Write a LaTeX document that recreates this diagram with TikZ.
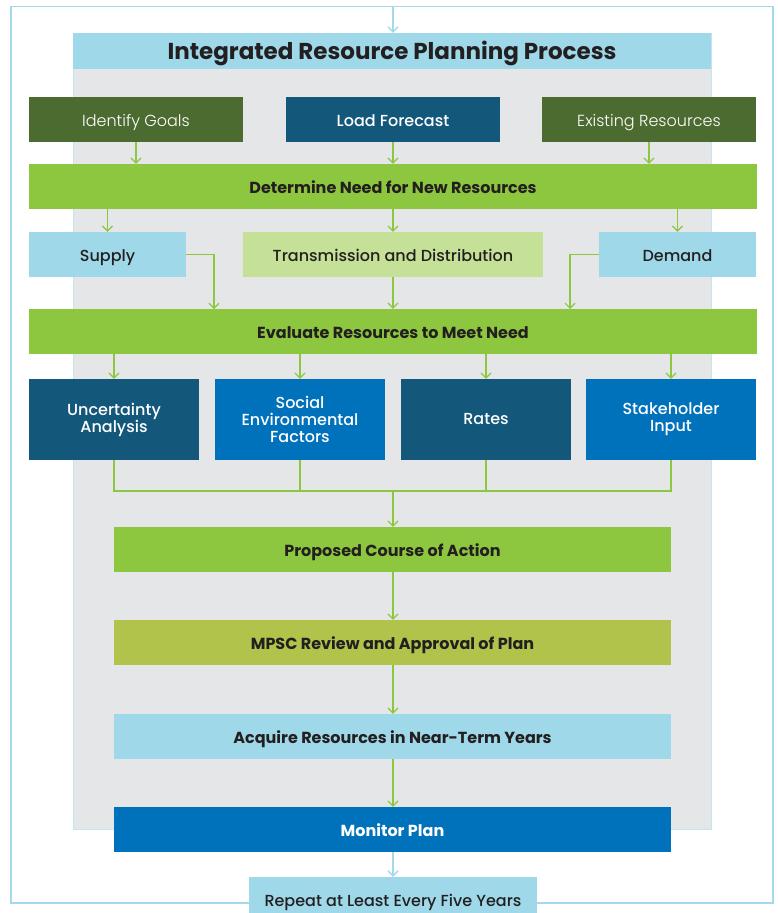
\documentclass[tikz,border=0pt]{standalone}
\usepackage{fontspec}
\setmainfont{Poppins}
\newfontfamily\lightface{Poppins}[UprightFont=*-Light]
\newfontfamily\mediumface{Poppins}[UprightFont=*-Medium]
\usetikzlibrary{arrows.meta}
\definecolor{darkgreen}{HTML}{4C6B31}
\definecolor{navy}{HTML}{13577B}
\definecolor{brightblue}{HTML}{0071BB}
\definecolor{lime}{HTML}{8DC63F}
\definecolor{olive}{HTML}{B1C34A}
\definecolor{palegreen}{HTML}{C5E097}
\definecolor{skyblue}{HTML}{9ED8E9}
\definecolor{panelgray}{HTML}{E5E6E8}
\definecolor{paneledge}{HTML}{C3E5F0}
\definecolor{loopblue}{HTML}{A3D9EB}
\definecolor{ink}{HTML}{231F20}
\tikzset{
  box/.style={rectangle, inner sep=0pt, align=center, text height=14pt, text depth=1pt,
    font=\fontsize{16}{17}\selectfont\mediumface},
  darkbox/.style={box, fill=#1, text=white},
  lightbox/.style={box, fill=#1, text=ink},
  wide/.style={minimum width=728pt, minimum height=45pt},
  mid/.style={minimum width=557pt, minimum height=45pt},
  top/.style={minimum width=214pt, minimum height=45pt},
  quad/.style={minimum width=170pt, minimum height=81pt, text height={}, text depth={}},
  bold/.style={font=\fontsize{16}{17}\selectfont\bfseries},
  thin/.style={font=\fontsize{16}{17}\selectfont\lightface},
  conn/.style={draw=lime, line width=1.2pt},
  arr/.style={conn, -{Straight Barb[length=5pt,width=10pt]}},
  loopline/.style={draw=loopblue, line width=1.4pt},
  looparr/.style={loopline, -{Straight Barb[length=5pt,width=10pt]}}
}
\begin{document}
\begin{tikzpicture}[x=1pt,y=-1pt]
\useasboundingbox (0,0) rectangle (778,913);
% background panel and heading
\fill[panelgray] (73,33) rectangle (711,829);
\draw[paneledge, line width=1pt] (73,33) rectangle (711,829);
\node[lightbox=skyblue, minimum width=638pt, minimum height=36pt, text height=20pt, text depth=3pt,
  font=\fontsize{23}{26}\selectfont\bfseries] (title) at (392,51) {Integrated Resource Planning Process};

% inputs
\node[darkbox=darkgreen, top, thin] (goals) at (136,119.5) {Identify Goals};
\node[darkbox=navy, top] (load) at (393,119.5) {Load Forecast};
\node[darkbox=darkgreen, top, thin] (exist) at (649,119.5) {Existing Resources};

\node[lightbox=lime, wide, bold] (need) at (393,186.5) {Determine Need for New Resources};

\node[lightbox=skyblue, minimum width=157pt, minimum height=45pt] (supply) at (107.5,254.5) {Supply};
\node[lightbox=palegreen, minimum width=300pt, minimum height=45pt] (td) at (393,254.5) {Transmission and Distribution};
\node[lightbox=skyblue, minimum width=157pt, minimum height=45pt] (demand) at (677.5,254.5) {Demand};

\node[lightbox=lime, wide, bold] (eval) at (393,331.5) {Evaluate Resources to Meet Need};

\node[darkbox=navy, quad] (unc) at (114,419.5) {Uncertainty\\Analysis};
\node[darkbox=brightblue, quad] (soc) at (300,419.5) {Social\\Environmental\\Factors};
\node[darkbox=navy, quad] (rates) at (486,419.5) {Rates};
\node[darkbox=brightblue, quad] (stake) at (671,419.5) {Stakeholder\\Input};

\node[lightbox=lime, mid, bold] (prop) at (392.5,549.5) {Proposed Course of Action};
\node[lightbox=olive, mid, bold] (mpsc) at (392.5,642.5) {MPSC Review and Approval of Plan};
\node[lightbox=skyblue, mid, bold] (acq) at (392.5,736.5) {Acquire Resources in Near-Term Years};
\node[darkbox=brightblue, mid, bold] (mon) at (392.5,829.5) {Monitor Plan};

\node[lightbox=skyblue, minimum width=288pt, minimum height=46pt] (rep) at (393,900) {Repeat at Least Every Five Years};

% connectors
\draw[arr] (goals.south) -- (goals.south |- need.north);
\draw[arr] (load.south) -- (load.south |- need.north);
\draw[arr] (exist.south) -- (exist.south |- need.north);

\draw[arr] (need.south -| supply.north) -- (supply.north);
\draw[arr] (need.south -| td.north) -- (td.north);
\draw[arr] (need.south -| demand.north) -- (demand.north);

\coordinate (sIn) at (214,309);
\coordinate (dIn) at (570,309);
\draw[arr] (supply.east) -| (sIn);
\draw[arr] (demand.west) -| (dIn);
\draw[arr] (td.south) -- (td.south |- eval.north);

\draw[arr] (eval.south -| unc.north) -- (unc.north);
\draw[arr] (eval.south -| soc.north) -- (soc.north);
\draw[arr] (eval.south -| rates.north) -- (rates.north);
\draw[arr] (eval.south -| stake.north) -- (stake.north);

\coordinate (bus) at (393,491);
\draw[conn] (unc.south) |- (bus) -| (stake.south);
\draw[conn] (soc.south) -- (soc.south |- bus);
\draw[conn] (rates.south) -- (rates.south |- bus);
\draw[arr] (bus) -- (bus |- prop.north);

\draw[arr] (prop.south -| bus) -- (mpsc.north -| bus);
\draw[arr] (mpsc.south -| bus) -- (acq.north -| bus);
\draw[arr] (acq.south -| bus) -- (mon.north -| bus);

% repeat loop
\coordinate (loopBL) at (11,903);
\coordinate (loopTL) at (11,6.5);
\coordinate (loopTR) at (773,6.5);
\coordinate (loopBR) at (773,903);
\coordinate (loopTop) at (393,6.5);
\draw[looparr] (mon.south -| bus) -- (rep.north -| bus);
\draw[loopline] (rep.west |- loopBL) -- (loopBL) -- (loopTL) -- (loopTR) -- (loopBR) -- (rep.east |- loopBR);
\draw[looparr] (loopTop) -- (loopTop |- title.north);
\end{tikzpicture}
\end{document}
